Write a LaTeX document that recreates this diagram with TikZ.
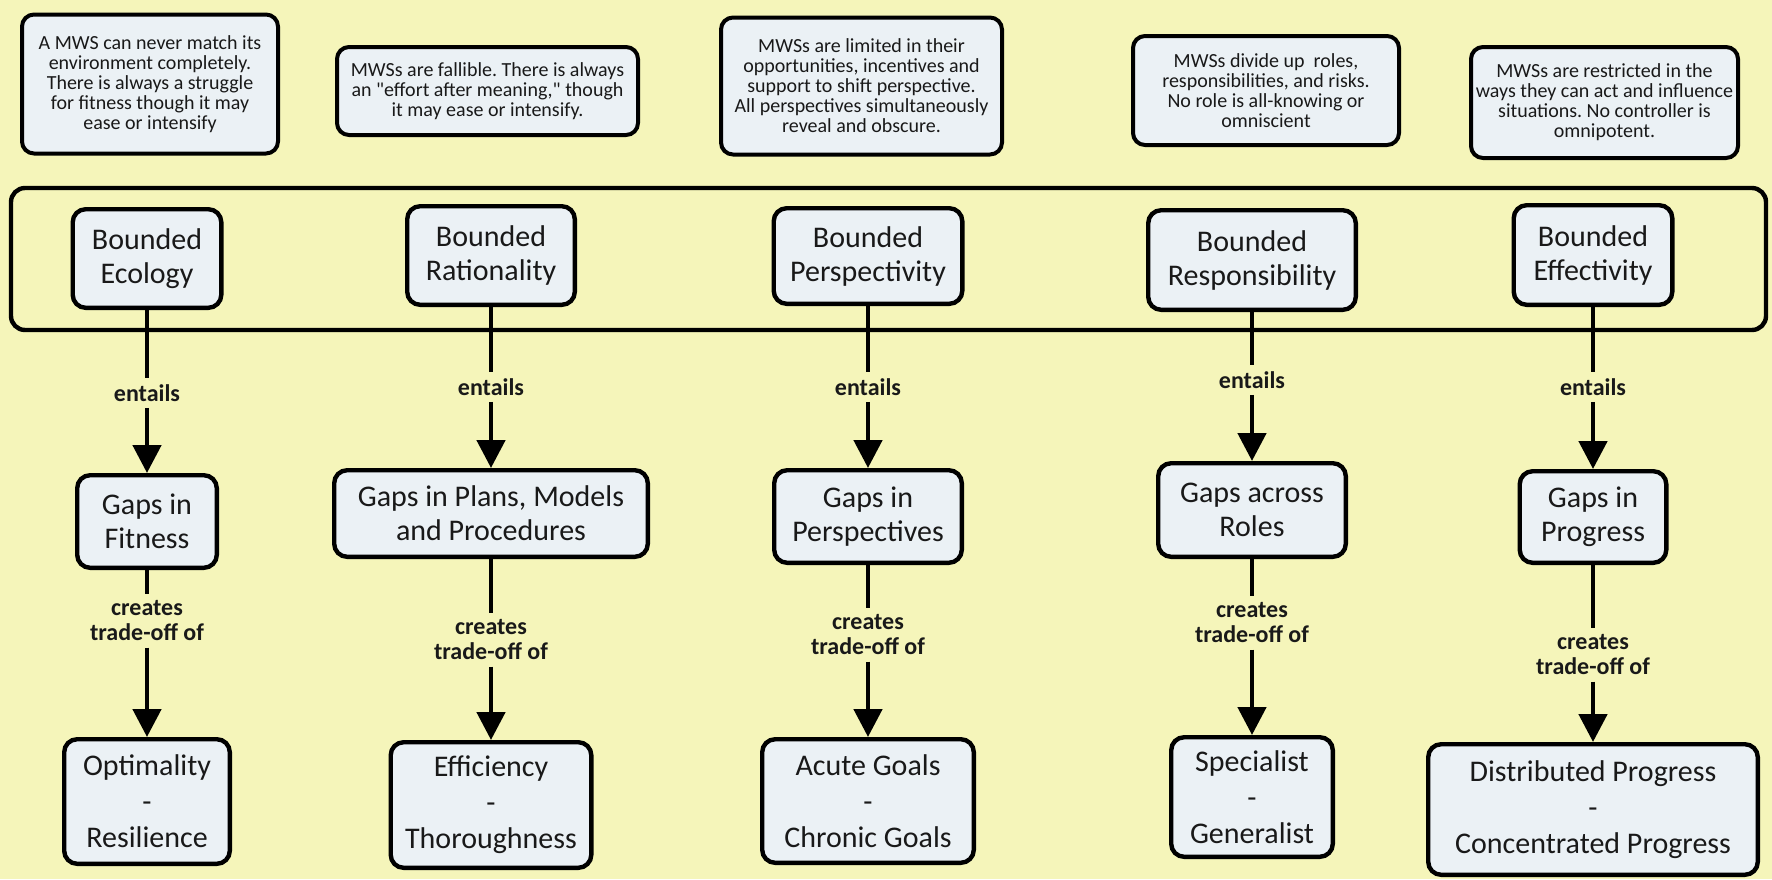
\documentclass[tikz,border=0pt]{standalone}
\usepackage{fontspec}
\setmainfont{Carlito}[Ligatures=TeXOff]
\usepackage{tikz}
\usetikzlibrary{arrows.meta}
\definecolor{paleyellow}{RGB}{245,245,186}
\definecolor{paleblue}{RGB}{235,241,245}
\definecolor{inkgray}{RGB}{25,25,25}
\frenchspacing

\begin{document}
\begin{tikzpicture}[x=0.5pt, y=-0.5pt,
	note/.style={draw, line width=2pt, rounded corners=6pt, fill=paleblue,
		align=center, text=inkgray, font=\fontsize{10}{10}\selectfont, inner sep=0pt},
	concept/.style={draw, line width=2.2pt, rounded corners=6.5pt, fill=paleblue,
		align=center, text=inkgray, font=\fontsize{15}{17}\selectfont, inner sep=0pt},
	tradeoff/.style={concept, font=\fontsize{15}{18}\selectfont},
	linkword/.style={align=center, text=inkgray,
		font=\bfseries\fontsize{12}{12.5}\selectfont, inner sep=3pt},
	link/.style={line width=2.4pt},
	linkto/.style={line width=2.4pt, -{Triangle[width=14pt,length=14pt]}}]

			\fill [paleyellow] (0, 0) rectangle (1772, 879);
			\useasboundingbox (0, 0) rectangle (1772, 879);

			\node [note, minimum width=128pt, minimum height=69.5pt] (n1) at (150, 84)
			{A MWS can never match its\\environment completely.\\There is always a struggle\\for fitness though it may\\ease or intensify};
			\node [note, minimum width=150.5pt, minimum height=44pt] (n2) at (487.5, 91)
			{MWSs are fallible. There is always\\an "effort after meaning," though\\it may ease or intensify.};
			\node [note, minimum width=140.5pt, minimum height=68.5pt] (n3) at (861.5, 86)
			{MWSs are limited in their\\opportunities, incentives and\\support to shift perspective.\\All perspectives simultaneously\\reveal and obscure.};
			\node [note, minimum width=133pt, minimum height=54.5pt] (n4) at (1266, 90.5)
			{MWSs divide up\ \ roles,\\responsibilities, and risks.\\No role is all-knowing or\\omniscient};
			\node [note, minimum width=133.5pt, minimum height=55.5pt] (n5) at (1604.5, 102.5)
			{MWSs are restricted in the\\ways they can act and influence\\situations. No controller is\\omnipotent.};

			\draw [line width=2.2pt, rounded corners=7pt] (11, 188) rectangle (1766, 330);

			\node [concept, minimum width=74.3pt, minimum height=49.3pt] (ecology) at (147, 258.5) {Bounded\\Ecology};
			\node [concept, minimum width=83.8pt, minimum height=49.3pt] (rationality) at (491, 255.5) {Bounded\\Rationality};
			\node [concept, minimum width=94.3pt, minimum height=47.8pt] (perspectivity) at (868, 256) {Bounded\\Perspectivity};
			\node [concept, minimum width=103.8pt, minimum height=49.8pt] (responsibility) at (1252, 260) {Bounded\\Responsibility};
			\node [concept, minimum width=79.3pt, minimum height=49.8pt] (effectivity) at (1593, 255) {Bounded\\Effectivity};

			\node [concept, minimum width=69.8pt, minimum height=46.3pt] (fitness) at (147, 521.5) {Gaps in\\Fitness};
			\node [concept, minimum width=156.8pt, minimum height=43.3pt] (plans) at (491, 513.5) {Gaps in Plans, Models\\and Procedures};
			\node [concept, minimum width=93.8pt, minimum height=46.3pt] (perspectives) at (868, 516.5) {Gaps in\\Perspectives};
			\node [concept, minimum width=93.8pt, minimum height=46.8pt] (roles) at (1252, 510) {Gaps across\\Roles};
			\node [concept, minimum width=73.3pt, minimum height=45.8pt] (progress) at (1593, 517) {Gaps in\\Progress};

			\node [tradeoff, minimum width=82.8pt, minimum height=62.3pt] (optimality) at (147, 801.5) {Optimality\\-\\Resilience};
			\node [tradeoff, minimum width=100.3pt, minimum height=62.8pt] (efficiency) at (491, 805) {Efficiency\\-\\Thoroughness};
			\node [tradeoff, minimum width=105.8pt, minimum height=61.8pt] (goals) at (868, 801) {Acute Goals\\-\\Chronic Goals};
			\node [tradeoff, minimum width=80.8pt, minimum height=59.8pt] (specialist) at (1252, 797) {Specialist\\-\\Generalist};
			\node [tradeoff, minimum width=164.8pt, minimum height=65.3pt] (distributed) at (1593, 809.5) {Distributed Progress\\-\\Concentrated Progress};

			\node [linkword] (e1) at (147, 393) {entails};
			\node [linkword] (e2) at (491, 387) {entails};
			\node [linkword] (e3) at (868, 387) {entails};
			\node [linkword] (e4) at (1252, 380) {entails};
			\node [linkword] (e5) at (1593, 387) {entails};

			\node [linkword] (c1) at (147, 621) {creates\\trade-off of};
			\node [linkword] (c2) at (491, 640) {creates\\trade-off of};
			\node [linkword] (c3) at (868, 635) {creates\\trade-off of};
			\node [linkword] (c4) at (1252, 623) {creates\\trade-off of};
			\node [linkword] (c5) at (1593, 655) {creates\\trade-off of};

			\draw [link] (ecology) -- (e1);
			\draw [linkto] (e1) -- (fitness);
			\draw [link] (rationality) -- (e2);
			\draw [linkto] (e2) -- (plans);
			\draw [link] (perspectivity) -- (e3);
			\draw [linkto] (e3) -- (perspectives);
			\draw [link] (responsibility) -- (e4);
			\draw [linkto] (e4) -- (roles);
			\draw [link] (effectivity) -- (e5);
			\draw [linkto] (e5) -- (progress);

			\draw [link] (fitness) -- (c1);
			\draw [linkto] (c1) -- (optimality);
			\draw [link] (plans) -- (c2);
			\draw [linkto] (c2) -- (efficiency);
			\draw [link] (perspectives) -- (c3);
			\draw [linkto] (c3) -- (goals);
			\draw [link] (roles) -- (c4);
			\draw [linkto] (c4) -- (specialist);
			\draw [link] (progress) -- (c5);
			\draw [linkto] (c5) -- (distributed);
\end{tikzpicture}
\end{document}
